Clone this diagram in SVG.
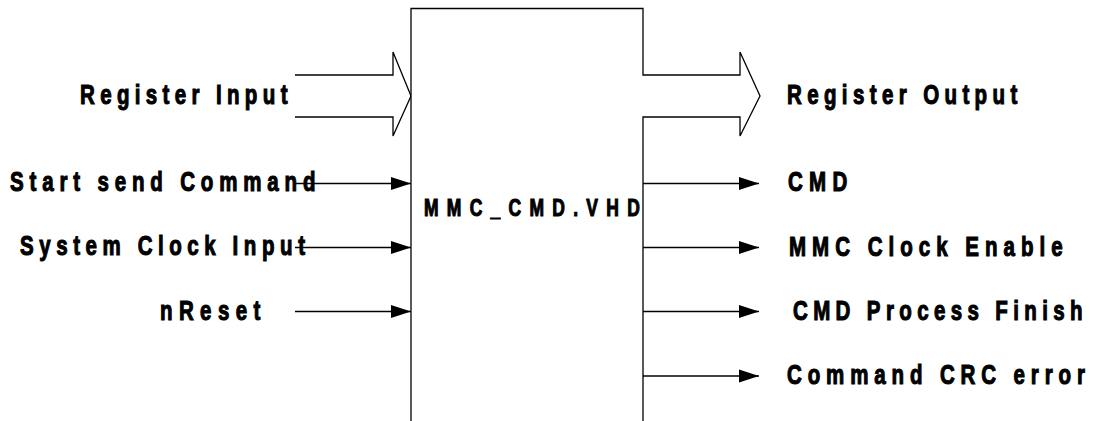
<svg xmlns="http://www.w3.org/2000/svg" width="1095" height="421" viewBox="0 0 1095 421">
  <style>
    .lbl { font-family: "Liberation Sans", Arial, sans-serif; font-weight: bold; font-size: 27px; fill: #000; stroke: #000; stroke-width: 1.1; }
    .blk { font-family: "Liberation Sans", Arial, sans-serif; font-weight: bold; font-size: 23px; fill: #000; stroke: #000; stroke-width: 1.1; }
    .outline { fill: #fff; stroke: #000; stroke-width: 1.3; }
    .wire { fill: none; stroke: #000; stroke-width: 1.3; marker-end: url(#ah); }
  </style>
  <defs>
    <marker id="ah" markerUnits="userSpaceOnUse" markerWidth="20" markerHeight="14" refX="20" refY="7" orient="auto">
      <path d="M0,0.5 L20,7 L0,13.5 z" fill="#000"/>
    </marker>
  </defs>
  <rect width="1095" height="421" fill="#fff"/>

  <g id="register-input-bus">
    <path class="outline" d="M295,75 H393 V52 L411,96 L393,136 V117 H295"/>
  </g>

  <g id="mmc-cmd-block">
    <path class="outline" d="M411,422 V8.5 H643 V75 H740 V52 L760,96 L740,136 V117 H643 V422"/>
    <text class="blk" transform="translate(424,216) scale(0.76,1)" textLength="284" lengthAdjust="spacing">MMC_CMD.VHD</text>
  </g>

  <g id="connectors">
    <line class="wire" x1="295" y1="183.5" x2="411" y2="183.5"/>
    <line class="wire" x1="295" y1="247.5" x2="411" y2="247.5"/>
    <line class="wire" x1="295" y1="311.5" x2="411" y2="311.5"/>
    <line class="wire" x1="643" y1="183.5" x2="759" y2="183.5"/>
    <line class="wire" x1="643" y1="247.5" x2="759" y2="247.5"/>
    <line class="wire" x1="643" y1="311.5" x2="759" y2="311.5"/>
    <line class="wire" x1="643" y1="376" x2="759" y2="376"/>
  </g>

  <g id="label-register-input"><text class="lbl" transform="translate(80,104) scale(0.76,1)" textLength="273" lengthAdjust="spacing">Register Input</text></g>
  <g id="label-register-output"><text class="lbl" transform="translate(787,104) scale(0.76,1)" textLength="303" lengthAdjust="spacing">Register Output</text></g>
  <g id="label-start-send-command"><text class="lbl" transform="translate(10,191) scale(0.76,1)" textLength="402" lengthAdjust="spacing">Start send Command</text></g>
  <g id="label-system-clock-input"><text class="lbl" transform="translate(20,255) scale(0.76,1)" textLength="375" lengthAdjust="spacing">System Clock Input</text></g>
  <g id="label-nreset"><text class="lbl" transform="translate(160,320) scale(0.76,1)" textLength="132" lengthAdjust="spacing">nReset</text></g>
  <g id="label-cmd"><text class="lbl" transform="translate(788,191) scale(0.76,1)" textLength="78" lengthAdjust="spacing">CMD</text></g>
  <g id="label-mmc-clock-enable"><text class="lbl" transform="translate(789,256) scale(0.76,1)" textLength="360" lengthAdjust="spacing">MMC Clock Enable</text></g>
  <g id="label-cmd-process-finish"><text class="lbl" transform="translate(793,320) scale(0.76,1)" textLength="381" lengthAdjust="spacing">CMD Process Finish</text></g>
  <g id="label-command-crc-error"><text class="lbl" transform="translate(787,384) scale(0.76,1)" textLength="392" lengthAdjust="spacing">Command CRC error</text></g>
</svg>
